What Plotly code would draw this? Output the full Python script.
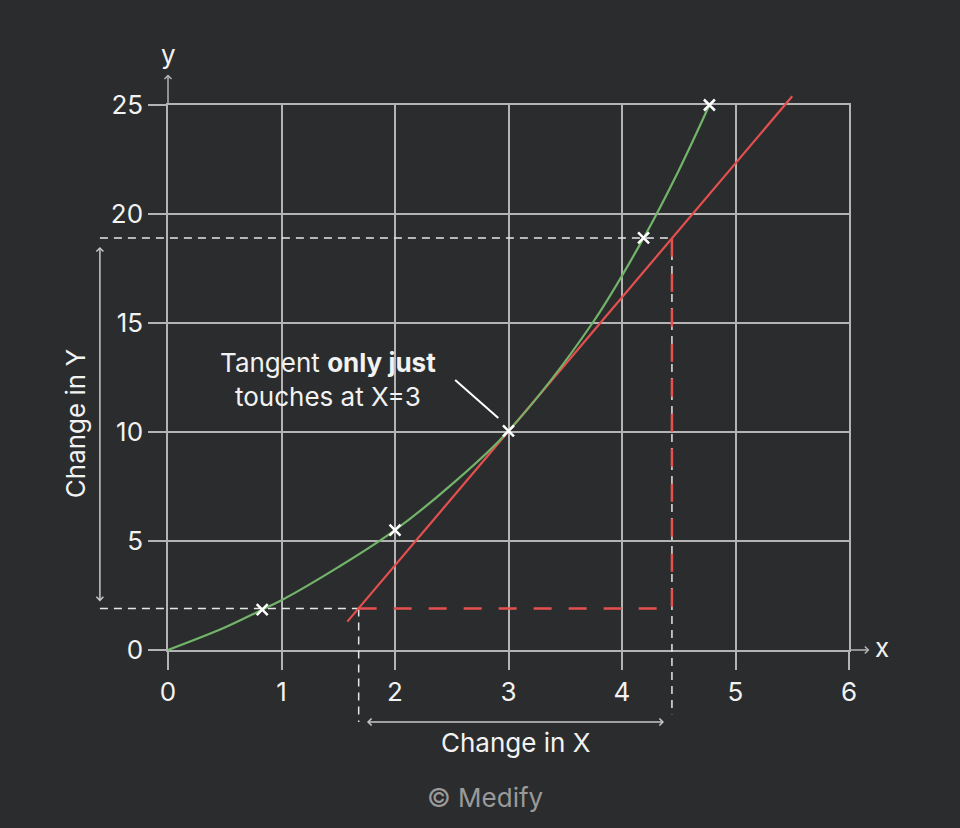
import plotly.graph_objects as go

# ---------------- data ----------------
curve_x = [0, 0.5, 0.83, 1, 1.5, 2, 2.5, 3, 3.74, 4.19, 4.5, 4.77]
curve_y = [0, 1.03, 1.85, 2.28, 3.8, 5.5, 7.6, 10.05, 15.0, 18.9, 22.0, 25]

point_x = [0.83, 2, 3, 4.19, 4.77]
point_y = [1.85, 5.5, 10.05, 18.9, 25]

tangent_x = [1.58, 5.5]
tangent_y = [1.3, 25.4]

x_lo, x_hi = 1.68, 4.44      # change in X bounds (on tangent)
y_lo, y_hi = 1.9, 18.9       # change in Y bounds (on tangent)
guide_left = -0.6            # where the horizontal guides start
guide_bottom_lo = -3.3       # bottom of left vertical guide
guide_bottom_hi = -2.95      # bottom of right vertical guide

x_ticks = [0, 1, 2, 3, 4, 5, 6]
y_ticks = [0, 5, 10, 15, 20, 25]
x_range = [0, 6]
y_range = [0, 25]

# ---------------- layout constants ----------------
W, H = 960, 828
PL, PR, PT, PB = 168, 849, 105, 650   # pixel box of the main axes
BG = "#2b2c2e"
GRID = "#b4b4b4"
TXT = "#f2f2f2"
GREEN = "#72b46a"
RED = "#e5504f"
FONT = "Inter"
FS = 26

sx = (PR - PL) / (x_range[1] - x_range[0])
sy = (PB - PT) / (y_range[1] - y_range[0])
x2_range = [x_range[0] - PL / sx, x_range[0] + (W - PL) / sx]
y2_range = [y_range[0] - (H - PB) / sy, y_range[0] + PB / sy]

fig = go.Figure()

# dummy trace to keep main axes
fig.add_trace(go.Scatter(x=[], y=[], xaxis="x", yaxis="y", showlegend=False))

# white dashed guides
white_dash = dict(color="#e6e6e6", width=1.5, dash="8px,6px")
for gx, gy in [
    ([guide_left, x_hi], [y_hi, y_hi]),
    ([guide_left, x_lo], [y_lo, y_lo]),
    ([x_lo, x_lo], [y_lo, guide_bottom_lo]),
    ([x_hi, x_hi], [y_hi, guide_bottom_hi]),
]:
    fig.add_trace(go.Scatter(x=gx, y=gy, mode="lines", line=white_dash,
                             xaxis="x2", yaxis="y2", hoverinfo="skip", showlegend=False))

# red dashed triangle legs
red_dash = dict(color=RED, width=2.5, dash="18px,17px")
fig.add_trace(go.Scatter(x=[x_lo, x_hi, x_hi], y=[y_lo, y_lo, y_hi], mode="lines",
                         line=red_dash, xaxis="x2", yaxis="y2",
                         hoverinfo="skip", showlegend=False))

# tangent line
fig.add_trace(go.Scatter(x=tangent_x, y=tangent_y, mode="lines",
                         line=dict(color=RED, width=2.2), xaxis="x2", yaxis="y2",
                         hoverinfo="skip", showlegend=False))

# curve
fig.add_trace(go.Scatter(x=curve_x, y=curve_y, mode="lines",
                         line=dict(color=GREEN, width=2.2, shape="spline", smoothing=1),
                         xaxis="x2", yaxis="y2", hoverinfo="skip", showlegend=False))

# points
fig.add_trace(go.Scatter(x=point_x, y=point_y, mode="markers",
                         marker=dict(symbol="x-thin", size=11, color="white",
                                     line=dict(color="white", width=2.5)),
                         xaxis="x2", yaxis="y2", hoverinfo="skip", showlegend=False))

# pointer line for the annotation
pointer_x = [2.53, 2.91]
pointer_y = [12.39, 10.64]
fig.add_trace(go.Scatter(x=pointer_x, y=pointer_y, mode="lines",
                         line=dict(color="white", width=2), xaxis="x2", yaxis="y2",
                         hoverinfo="skip", showlegend=False))

annotations = []
# axis arrows
annotations.append(dict(x=6.18, y=0, ax=x_range[1], ay=0, xref="x2", yref="y2",
                        axref="x2", ayref="y2", text="", showarrow=True,
                        arrowhead=4, arrowsize=0.9, arrowwidth=1.5, arrowcolor=GRID, standoff=0))
annotations.append(dict(x=0, y=26.4, ax=0, ay=y_range[1], xref="x2", yref="y2",
                        axref="x2", ayref="y2", text="", showarrow=True,
                        arrowhead=4, arrowsize=0.9, arrowwidth=1.5, arrowcolor=GRID, standoff=0))
# axis names
annotations.append(dict(x=6.29, y=0.1, xref="x2", yref="y2", text="x", showarrow=False,
                        xanchor="center", yanchor="middle",
                        font=dict(size=FS, color=TXT, family=FONT)))
annotations.append(dict(x=0, y=27.3, xref="x2", yref="y2", text="y", showarrow=False,
                        xanchor="center", yanchor="middle",
                        font=dict(size=FS, color=TXT, family=FONT)))
# change arrows
annotations.append(dict(x=guide_left, y=18.49, ax=guide_left, ay=2.16, xref="x2", yref="y2",
                        axref="x2", ayref="y2", text="", showarrow=True, arrowside="end+start",
                        arrowhead=4, startarrowhead=4, arrowsize=0.9, startarrowsize=0.9,
                        arrowwidth=1.5, arrowcolor="#c8c8c8", standoff=0, startstandoff=0))
annotations.append(dict(x=4.37, y=-3.3, ax=1.74, ay=-3.3, xref="x2", yref="y2",
                        axref="x2", ayref="y2", text="", showarrow=True, arrowside="end+start",
                        arrowhead=4, startarrowhead=4, arrowsize=0.9, startarrowsize=0.9,
                        arrowwidth=1.5, arrowcolor="#c8c8c8", standoff=0, startstandoff=0))
annotations.append(dict(x=-0.82, y=10.4, xref="x2", yref="y2", text="Change in Y",
                        textangle=-90, showarrow=False, xanchor="center", yanchor="middle",
                        font=dict(size=FS, color=TXT, family=FONT)))
annotations.append(dict(x=3.06, y=-4.22, xref="x2", yref="y2", text="Change in X",
                        showarrow=False, xanchor="center", yanchor="middle",
                        font=dict(size=FS, color=TXT, family=FONT)))
annotations.append(dict(x=1.41, y=12.43, xref="x2", yref="y2",
                        text="Tangent <b>only just</b><br>touches at X=3",
                        showarrow=False, align="center", xanchor="center", yanchor="middle",
                        font=dict(size=FS, color=TXT, family=FONT)))
annotations.append(dict(x=485 / W, y=1 - 797 / H, xref="paper", yref="paper",
                        text="© Medify", showarrow=False, xanchor="center", yanchor="middle",
                        font=dict(size=FS, color="#9a9a9a", family=FONT)))

axis_common = dict(showgrid=True, gridcolor=GRID, gridwidth=1.5, ticks="outside",
                   ticklen=18, tickwidth=1.5, tickcolor=GRID, zeroline=False,
                   showline=True, mirror=True, linecolor=GRID, linewidth=1.5,
                   tickfont=dict(size=FS, color=TXT, family=FONT),
                   fixedrange=True, automargin=False)

fig.update_layout(
    width=W, height=H, autosize=False,
    margin=dict(l=0, r=0, t=0, b=0, pad=0, autoexpand=False),
    paper_bgcolor=BG, plot_bgcolor="rgba(0,0,0,0)",
    showlegend=False, hovermode=False,
    font=dict(family=FONT, color=TXT),
    xaxis=dict(domain=[PL / W, PR / W], range=x_range, tickvals=x_ticks,
               anchor="y", **axis_common),
    yaxis=dict(domain=[(H - PB) / H, (H - PT) / H], range=y_range, tickvals=y_ticks,
               anchor="x", **axis_common),
    xaxis2=dict(domain=[0, 1], range=x2_range, visible=False, anchor="y2",
                fixedrange=True, automargin=False),
    yaxis2=dict(domain=[0, 1], range=y2_range, visible=False, anchor="x2",
                fixedrange=True, automargin=False),
    annotations=annotations,
)

fig.write_html(
    "out.html",
    config={"displayModeBar": False},
    post_script="document.body.style.margin='0';document.body.style.overflow='hidden';"
                "document.body.style.background='" + BG + "';",
)
